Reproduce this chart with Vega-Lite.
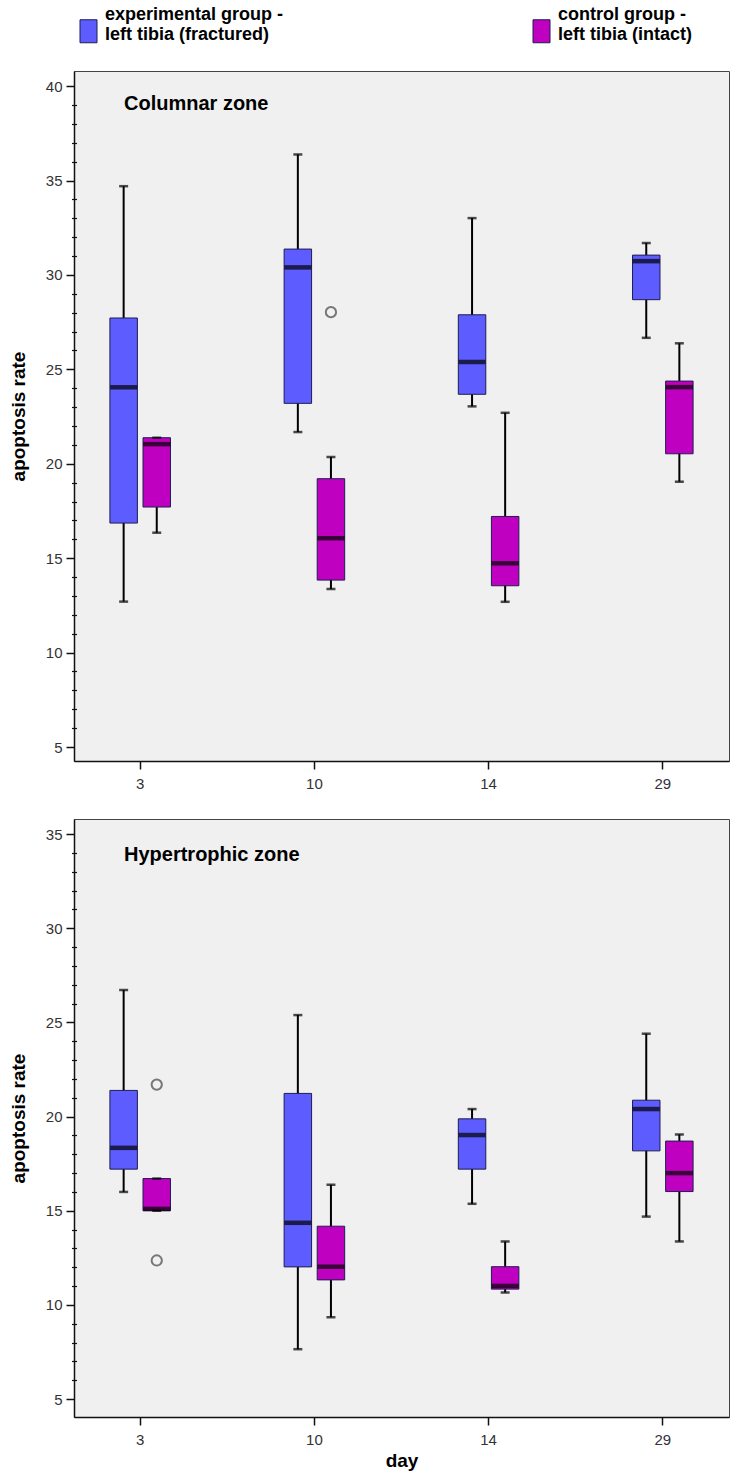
{
  "$schema": "https://vega.github.io/schema/vega-lite/v6.json",
  "background": "white",
  "padding": {"left": 8, "top": 4, "right": 3, "bottom": 4},
  "config": {
    "font": "Liberation Sans",
    "view": {"stroke": "#444444", "fill": "#f0f0f0", "strokeWidth": 1},
    "axis": {
      "labelFont": "Liberation Sans", "labelFontSize": 15, "labelColor": "#333333",
      "tickColor": "#111111", "domainColor": "#111111", "domainWidth": 1.5, "tickWidth": 1.5, "tickSize": 8,
      "grid": false, "titleFont": "Liberation Sans", "titleFontSize": 19, "titleFontWeight": "bold", "titleColor": "#000000"
    },
    "legend": {
      "orient": "top", "direction": "horizontal", "title": null,
      "labelFont": "Liberation Sans", "labelFontSize": 18, "labelFontWeight": "bold", "labelColor": "#000000", "labelLimit": 400,
      "symbolType": "M-0.85,0.5 L0.85,0.5 L0.85,2.8 L-0.85,2.8 Z", "symbolSize": 400, "symbolStrokeColor": "#1e1e50", "symbolStrokeWidth": 1,
      "symbolOffset": 4, "columnPadding": 243, "labelOffset": 6, "offset": 25
    }
  },
  "datasets": {
    "colBox": [
      {"day": "3", "group": "experimental group - left tibia (fractured)", "lower": 12.7, "q1": 16.86, "median": 24.05, "q3": 27.72, "upper": 34.7},
      {"day": "3", "group": "control group - left tibia (intact)", "lower": 16.35, "q1": 17.71, "median": 21.04, "q3": 21.38, "upper": 21.38},
      {"day": "10", "group": "experimental group - left tibia (fractured)", "lower": 21.68, "q1": 23.2, "median": 30.4, "q3": 31.37, "upper": 36.38},
      {"day": "10", "group": "control group - left tibia (intact)", "lower": 13.37, "q1": 13.84, "median": 16.05, "q3": 19.21, "upper": 20.36},
      {"day": "14", "group": "experimental group - left tibia (fractured)", "lower": 23.04, "q1": 23.68, "median": 25.39, "q3": 27.89, "upper": 33.01},
      {"day": "14", "group": "control group - left tibia (intact)", "lower": 12.69, "q1": 13.54, "median": 14.73, "q3": 17.21, "upper": 22.7},
      {"day": "29", "group": "experimental group - left tibia (fractured)", "lower": 26.67, "q1": 28.69, "median": 30.73, "q3": 31.05, "upper": 31.69},
      {"day": "29", "group": "control group - left tibia (intact)", "lower": 19.05, "q1": 20.53, "median": 24.06, "q3": 24.38, "upper": 26.38}
    ],
    "colOut": [
      {"day": "10", "group": "control group - left tibia (intact)", "value": 28.03}
    ],
    "hypBox": [
      {"day": "3", "group": "experimental group - left tibia (fractured)", "lower": 16.0, "q1": 17.21, "median": 18.34, "q3": 21.39, "upper": 26.72},
      {"day": "3", "group": "control group - left tibia (intact)", "lower": 15.0, "q1": 15.0, "median": 15.1, "q3": 16.71, "upper": 16.71},
      {"day": "10", "group": "experimental group - left tibia (fractured)", "lower": 7.65, "q1": 12.02, "median": 14.36, "q3": 21.23, "upper": 25.39},
      {"day": "10", "group": "control group - left tibia (intact)", "lower": 9.35, "q1": 11.33, "median": 12.03, "q3": 14.18, "upper": 16.38},
      {"day": "14", "group": "experimental group - left tibia (fractured)", "lower": 15.37, "q1": 17.21, "median": 19.02, "q3": 19.88, "upper": 20.4},
      {"day": "14", "group": "control group - left tibia (intact)", "lower": 10.66, "q1": 10.84, "median": 11.01, "q3": 12.03, "upper": 13.37},
      {"day": "29", "group": "experimental group - left tibia (fractured)", "lower": 14.69, "q1": 18.18, "median": 20.4, "q3": 20.87, "upper": 24.4},
      {"day": "29", "group": "control group - left tibia (intact)", "lower": 13.37, "q1": 16.02, "median": 17.0, "q3": 18.7, "upper": 19.05}
    ],
    "hypOut": [
      {"day": "3", "group": "control group - left tibia (intact)", "value": 21.7},
      {"day": "3", "group": "control group - left tibia (intact)", "value": 12.36}
    ]
  },
  "spacing": 26,
  "vconcat": [
    {
      "width": 655, "height": 690,
      "title": {"text": "Columnar zone", "anchor": "start", "frame": "group", "orient": "top", "offset": -43, "dx": 50, "fontSize": 20, "fontWeight": "bold", "font": "Liberation Sans", "color": "#000000"},
      "resolve": {"axis": {"y": "independent"}},
      "layer": [
        {
          "data": {"name": "colBox"},
          "mark": {"type": "rule", "color": "#000000", "strokeWidth": 2},
          "encoding": {
            "x": {"field": "day", "type": "ordinal", "scale": {"domain": ["3", "10", "14", "29"], "paddingInner": 0.62, "paddingOuter": 0.19}, "axis": {"title": null, "labelAngle": 0, "labelPadding": 7}},
            "xOffset": {"field": "group", "type": "nominal", "scale": {"domain": ["experimental group - left tibia (fractured)", "control group - left tibia (intact)"], "paddingInner": 0.17, "paddingOuter": 0.085}},
            "y": {"field": "lower", "type": "quantitative", "scale": {"domain": [4.26, 40.8], "nice": false, "zero": false},
                  "axis": {"orient": "left", "values": [5, 10, 15, 20, 25, 30, 35, 40], "title": "apoptosis rate", "labelPadding": 4, "titlePadding": 17}},
            "y2": {"field": "upper"}
          }
        },
        {
          "data": {"name": "colBox"},
          "mark": {"type": "bar", "stroke": "#1e1e50", "strokeWidth": 1},
          "encoding": {
            "x": {"field": "day", "type": "ordinal"},
            "xOffset": {"field": "group", "type": "nominal"},
            "y": {"field": "q1", "type": "quantitative",
                  "axis": {"orient": "left", "values": [6,7,8,9,11,12,13,14,16,17,18,19,21,22,23,24,26,27,28,29,31,32,33,34,36,37,38,39], "labels": false, "domain": false, "title": null, "tickSize": 5, "offset": -2.5, "tickWidth": 1.2}},
            "y2": {"field": "q3"},
            "color": {"field": "group", "type": "nominal",
                      "scale": {"domain": ["experimental group - left tibia (fractured)", "control group - left tibia (intact)"], "range": ["#5c5cff", "#c000c0"]},
                      "legend": {"labelExpr": "[slice(datum.label, 0, indexof(datum.label, ' - ') + 2), slice(datum.label, indexof(datum.label, ' - ') + 3)]"}}
          }
        },
        {
          "data": {"name": "colBox"},
          "mark": {"type": "tick", "color": "#000000", "size": 27, "thickness": 4.5},
          "encoding": {
            "x": {"field": "day", "type": "ordinal"},
            "xOffset": {"field": "group", "type": "nominal"},
            "y": {"field": "median", "type": "quantitative", "axis": null}
          }
        },
        {
          "data": {"name": "colBox"},
          "mark": {"type": "tick", "color": "#000000", "size": 9, "thickness": 2.5},
          "encoding": {
            "x": {"field": "day", "type": "ordinal"},
            "xOffset": {"field": "group", "type": "nominal"},
            "y": {"field": "lower", "type": "quantitative", "axis": null}
          }
        },
        {
          "data": {"name": "colBox"},
          "mark": {"type": "tick", "color": "#000000", "size": 9, "thickness": 2.5},
          "encoding": {
            "x": {"field": "day", "type": "ordinal"},
            "xOffset": {"field": "group", "type": "nominal"},
            "y": {"field": "upper", "type": "quantitative", "axis": null}
          }
        },
        {
          "data": {"name": "colOut"},
          "mark": {"type": "point", "shape": "circle", "filled": false, "size": 105, "stroke": "#444444", "strokeWidth": 2},
          "encoding": {
            "x": {"field": "day", "type": "ordinal"},
            "xOffset": {"field": "group", "type": "nominal"},
            "y": {"field": "value", "type": "quantitative", "axis": null}
          }
        }
      ]
    },
    {
      "width": 655, "height": 598,
      "title": {"text": "Hypertrophic zone", "anchor": "start", "frame": "group", "orient": "top", "offset": -46, "dx": 50, "fontSize": 20, "fontWeight": "bold", "font": "Liberation Sans", "color": "#000000"},
      "resolve": {"axis": {"y": "independent"}},
      "layer": [
        {
          "data": {"name": "hypBox"},
          "mark": {"type": "rule", "color": "#000000", "strokeWidth": 2},
          "encoding": {
            "x": {"field": "day", "type": "ordinal", "scale": {"domain": ["3", "10", "14", "29"], "paddingInner": 0.62, "paddingOuter": 0.19}, "axis": {"title": "day", "labelAngle": 0, "labelPadding": 7, "titlePadding": 4}},
            "xOffset": {"field": "group", "type": "nominal", "scale": {"domain": ["experimental group - left tibia (fractured)", "control group - left tibia (intact)"], "paddingInner": 0.17, "paddingOuter": 0.085}},
            "y": {"field": "lower", "type": "quantitative", "scale": {"domain": [4.05, 35.8], "nice": false, "zero": false},
                  "axis": {"orient": "left", "values": [5, 10, 15, 20, 25, 30, 35], "title": "apoptosis rate", "labelPadding": 4, "titlePadding": 17}},
            "y2": {"field": "upper"}
          }
        },
        {
          "data": {"name": "hypBox"},
          "mark": {"type": "bar", "stroke": "#1e1e50", "strokeWidth": 1},
          "encoding": {
            "x": {"field": "day", "type": "ordinal"},
            "xOffset": {"field": "group", "type": "nominal"},
            "y": {"field": "q1", "type": "quantitative",
                  "axis": {"orient": "left", "values": [6,7,8,9,11,12,13,14,16,17,18,19,21,22,23,24,26,27,28,29,31,32,33,34], "labels": false, "domain": false, "title": null, "tickSize": 5, "offset": -2.5, "tickWidth": 1.2}},
            "y2": {"field": "q3"},
            "color": {"field": "group", "type": "nominal",
                      "scale": {"domain": ["experimental group - left tibia (fractured)", "control group - left tibia (intact)"], "range": ["#5c5cff", "#c000c0"]},
                      "legend": {"labelExpr": "[slice(datum.label, 0, indexof(datum.label, ' - ') + 2), slice(datum.label, indexof(datum.label, ' - ') + 3)]"}}
          }
        },
        {
          "data": {"name": "hypBox"},
          "mark": {"type": "tick", "color": "#000000", "size": 27, "thickness": 4.5},
          "encoding": {
            "x": {"field": "day", "type": "ordinal"},
            "xOffset": {"field": "group", "type": "nominal"},
            "y": {"field": "median", "type": "quantitative", "axis": null}
          }
        },
        {
          "data": {"name": "hypBox"},
          "mark": {"type": "tick", "color": "#000000", "size": 9, "thickness": 2.5},
          "encoding": {
            "x": {"field": "day", "type": "ordinal"},
            "xOffset": {"field": "group", "type": "nominal"},
            "y": {"field": "lower", "type": "quantitative", "axis": null}
          }
        },
        {
          "data": {"name": "hypBox"},
          "mark": {"type": "tick", "color": "#000000", "size": 9, "thickness": 2.5},
          "encoding": {
            "x": {"field": "day", "type": "ordinal"},
            "xOffset": {"field": "group", "type": "nominal"},
            "y": {"field": "upper", "type": "quantitative", "axis": null}
          }
        },
        {
          "data": {"name": "hypOut"},
          "mark": {"type": "point", "shape": "circle", "filled": false, "size": 105, "stroke": "#444444", "strokeWidth": 2},
          "encoding": {
            "x": {"field": "day", "type": "ordinal"},
            "xOffset": {"field": "group", "type": "nominal"},
            "y": {"field": "value", "type": "quantitative", "axis": null}
          }
        }
      ]
    }
  ]
}
